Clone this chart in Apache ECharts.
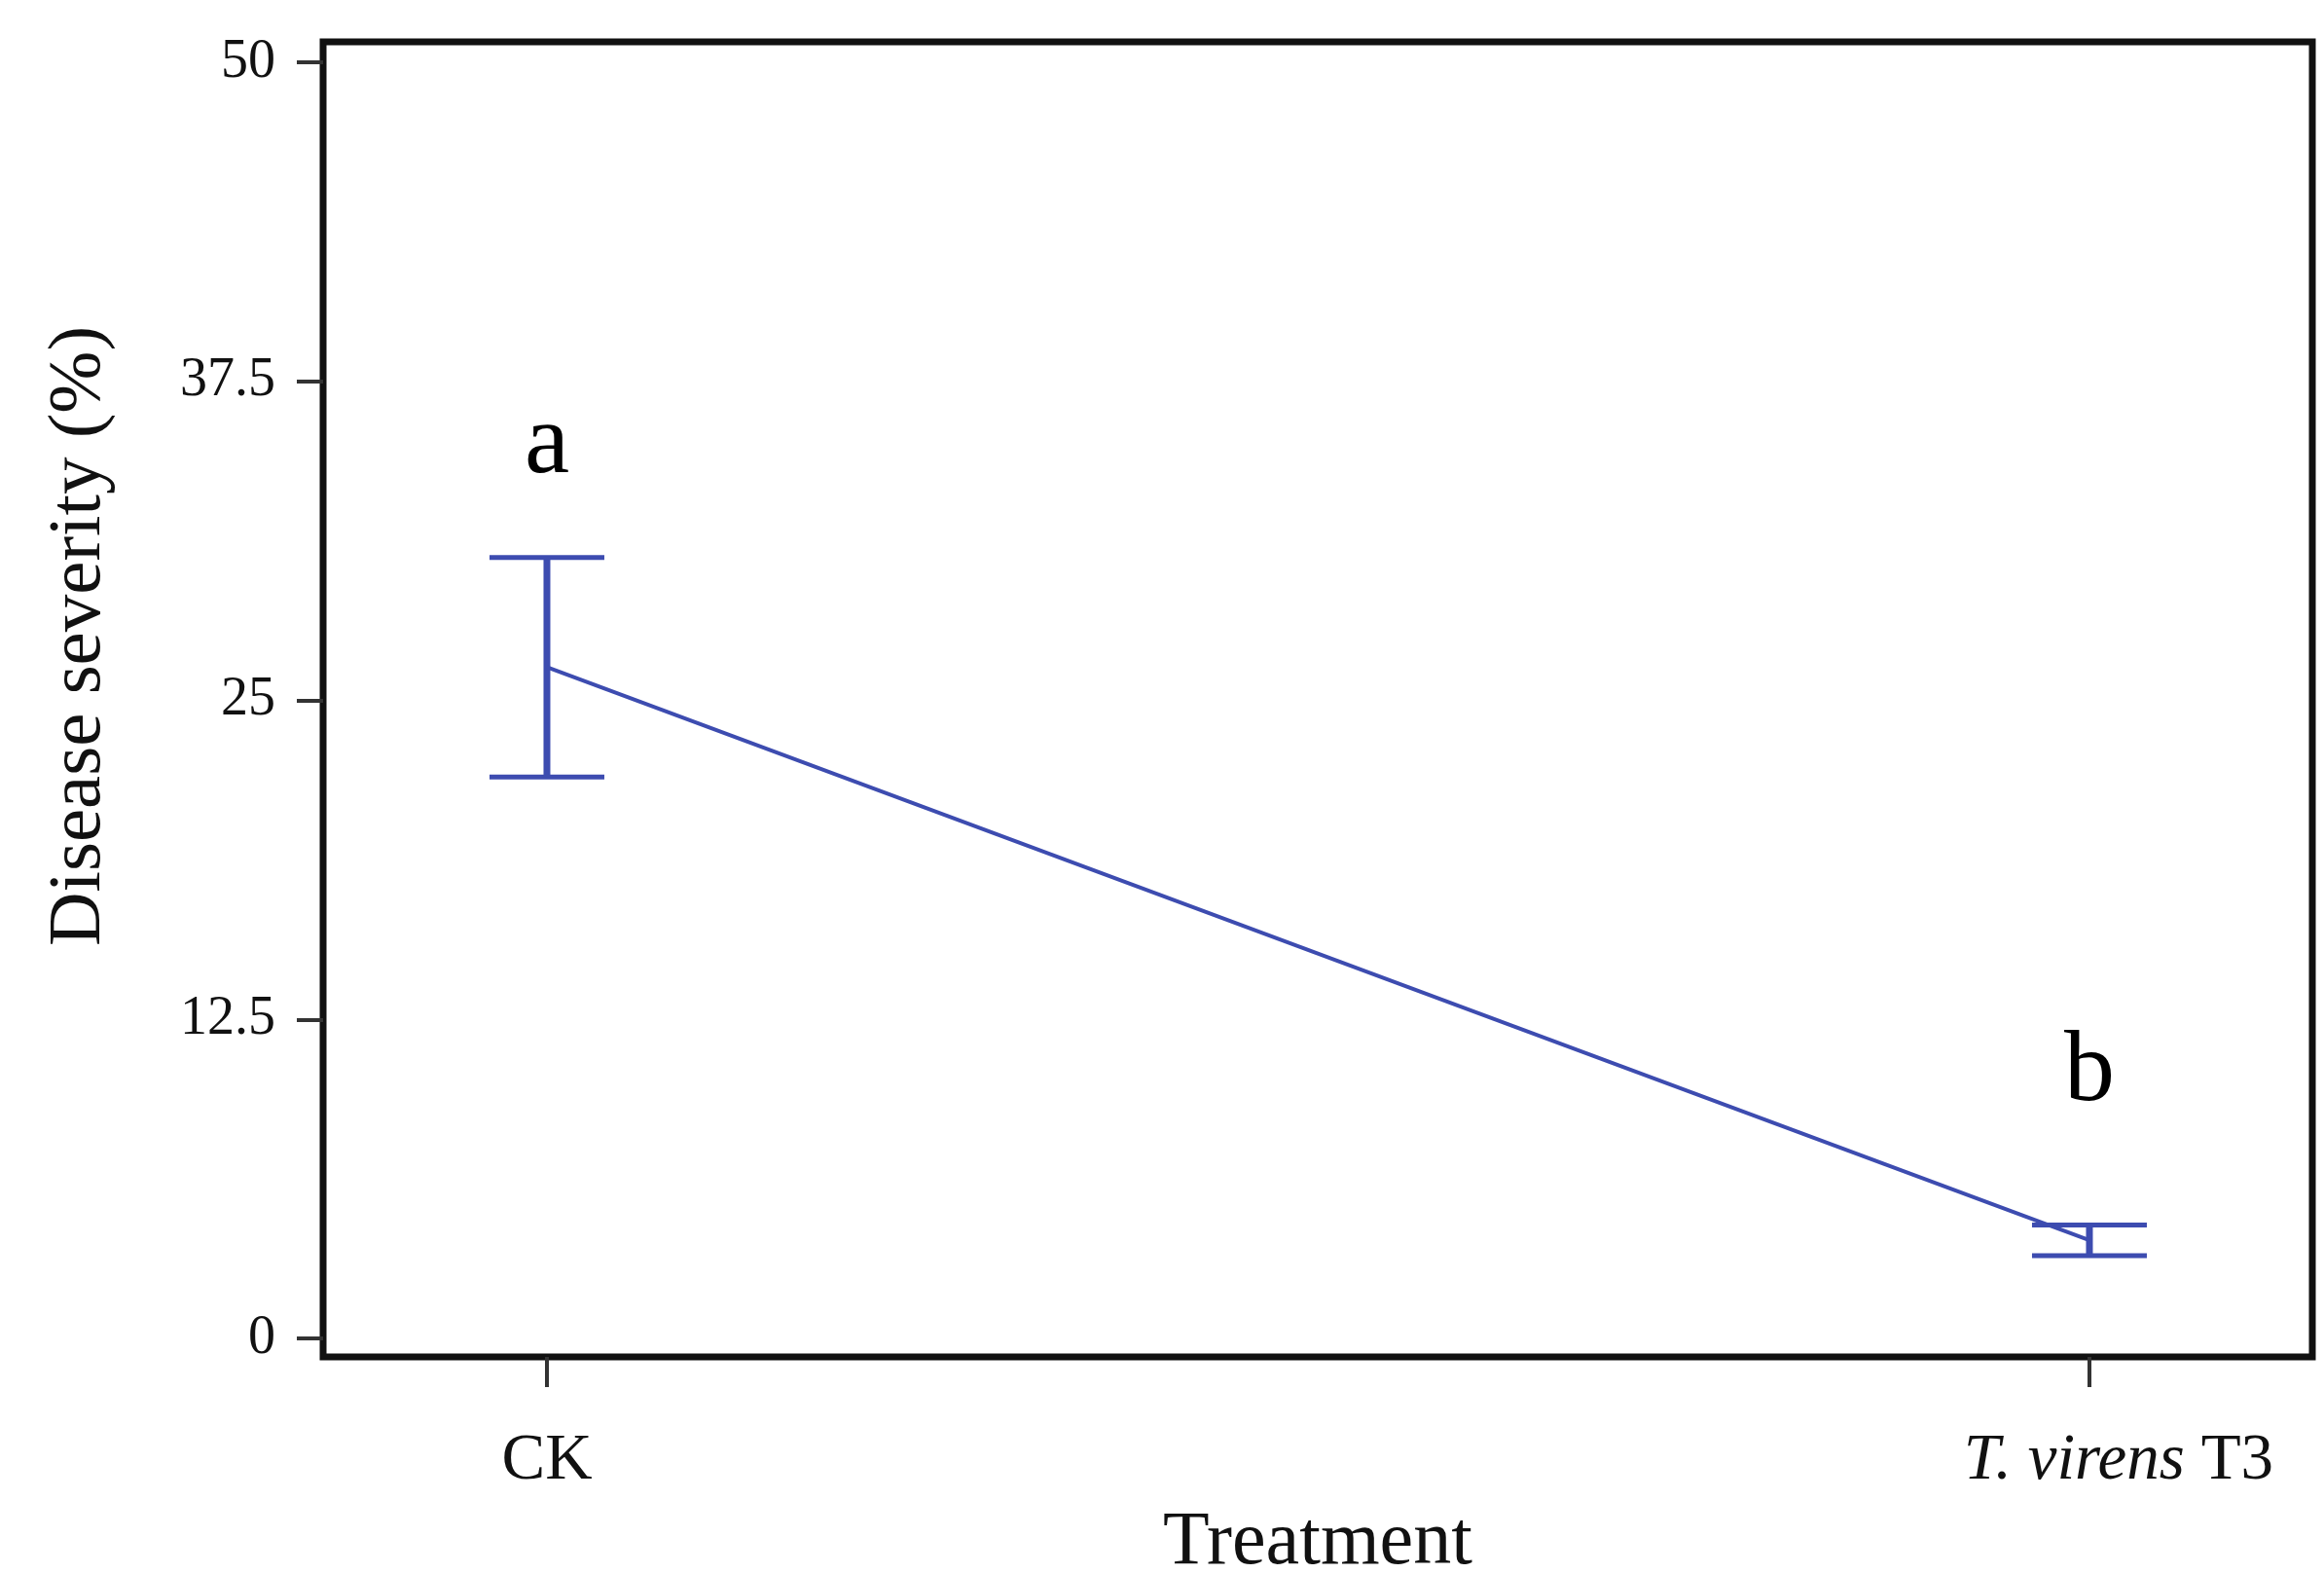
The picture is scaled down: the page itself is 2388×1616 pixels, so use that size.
<!DOCTYPE html>
<html><head><meta charset="utf-8">
<script src="https://cdn.jsdelivr.net/npm/echarts@6/dist/echarts.min.js"></script>
<style>html,body{margin:0;padding:0;background:#fff}#c{width:2388px;height:1616px}</style>
</head><body><div id="c"></div>
<script>
// ---- data ----
const categories = ['CK', 'T. virens T3'];
const means = [26.3, 3.85];
const errors = [4.3, 0.6];
const letters = ['a', 'b'];
const letterY = [35.0, 10.4];
const yTicks = [0, 12.5, 25, 37.5, 50];
const xTicks = [0, 1];

const blue = '#3d4cb0';
const serif = 'Liberation Serif';

const chart = echarts.init(document.getElementById('c'));
chart.setOption({
  animation: false,
  backgroundColor: '#fff',
  grid: { left: 332, right: 12, top: 43, bottom: 222, show: true, borderColor: '#111', borderWidth: 7, backgroundColor: 'transparent', outerBoundsMode: 'none', containLabel: false },
  xAxis: {
    type: 'value', min: -0.1451, max: 1.1445,
    name: 'Treatment', nameLocation: 'middle', nameGap: 153,
    nameTextStyle: { fontFamily: serif, fontSize: 78, color: '#111' },
    axisLine: { show: false, onZero: false },
    splitLine: { show: false },
    axisTick: { show: true, customValues: xTicks, length: 31, lineStyle: { color: '#333', width: 4 } },
    axisLabel: {
      customValues: xTicks, margin: 74, fontFamily: serif, fontSize: 67, color: '#111',
      formatter: v => {
        const n = categories[Math.round(v)];
        if (n.startsWith('T. virens')) return '{s| }{i|T. virens} T3';
        return n;
      },
      rich: {
        i: { fontStyle: 'italic', fontFamily: serif, fontSize: 67, color: '#111' },
        s: { width: 60, fontSize: 67 }
      }
    }
  },
  yAxis: {
    type: 'value', min: -0.72, max: 50.8,
    name: 'Disease severity (%)', nameLocation: 'middle', nameGap: 212, nameRotate: 90,
    nameTextStyle: { fontFamily: serif, fontSize: 77, color: '#111', padding: [0, 0, 0, 130] },
    axisLine: { show: false, onZero: false },
    splitLine: { show: false },
    axisTick: { show: true, customValues: yTicks, length: 27, lineStyle: { color: '#333', width: 4 } },
    axisLabel: { customValues: yTicks, margin: 49, fontFamily: serif, fontSize: 56, color: '#111' }
  },
  series: [
    {
      type: 'custom',
      data: means.map((m, i) => [i, m - errors[i], m + errors[i]]),
      renderItem: (params, api) => {
        const x = api.value(0);
        const pLo = api.coord([x, api.value(1)]);
        const pHi = api.coord([x, api.value(2)]);
        const hw = 59;
        return {
          type: 'group',
          children: [
            { type: 'line', shape: { x1: pLo[0], y1: pLo[1], x2: pHi[0], y2: pHi[1] }, style: { stroke: blue, lineWidth: 7 } },
            { type: 'line', shape: { x1: pHi[0] - hw, y1: pHi[1], x2: pHi[0] + hw, y2: pHi[1] }, style: { stroke: blue, lineWidth: 5 } },
            { type: 'line', shape: { x1: pLo[0] - hw, y1: pLo[1], x2: pLo[0] + hw, y2: pLo[1] }, style: { stroke: blue, lineWidth: 5 } }
          ]
        };
      },
      z: 3
    },
    {
      type: 'line',
      data: means.map((m, i) => [i, m]),
      showSymbol: false,
      lineStyle: { color: blue, width: 4 },
      z: 4
    },
    {
      type: 'scatter',
      data: letters.map((t, i) => [i, letterY[i], t]),
      symbolSize: 1,
      itemStyle: { color: 'transparent' },
      label: { show: true, position: 'inside', formatter: p => p.data[2], fontFamily: serif, fontSize: 104, color: '#000', textBorderWidth: 0, opacity: 1 },
      z: 5
    }
  ]
});
</script>
</body></html>
